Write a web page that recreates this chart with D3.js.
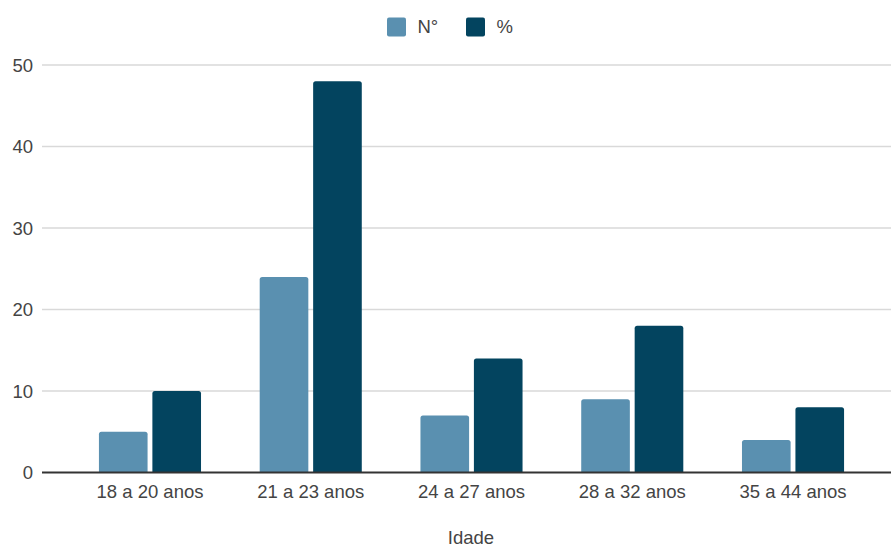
<!DOCTYPE html>
<html>
<head>
<meta charset="utf-8">
<script src="https://cdn.jsdelivr.net/npm/d3@7"></script>
<style>
  html, body { margin: 0; padding: 0; background: #fff; }
  svg { display: block; font-family: "Liberation Sans", Arial, sans-serif; }
</style>
</head>
<body>
<svg id="chart" width="891" height="547"></svg>
<script>
// Age groups and the two series shown per group
const categories = ["18 a 20 anos", "21 a 23 anos", "24 a 27 anos", "28 a 32 anos", "35 a 44 anos"];
const seriesNames = ["N°", "%"];
const countValues = [5, 24, 7, 9, 4];
const percentValues = [10, 48, 14, 18, 8];
const yTicks = [0, 10, 20, 30, 40, 50];
const colors = ["#5a90b0", "#03445f"];
const xTitle = "Idade";

const FONT = '"Liberation Sans", Arial, sans-serif';
const FS = 18.5;
const TEXT = "#444";

const svg = d3.select("#chart");

const gridLeft = 42, gridRight = 891;
const bandLeft = 70, bandRight = 873;
const yBottom = 472.5, yTop = 65;

const x = d3.scaleBand().domain(categories).range([bandLeft, bandRight]).paddingInner(0.365).paddingOuter(0.18);
const xs = d3.scaleBand().domain(seriesNames).range([0, x.bandwidth()]).paddingInner(0.09);
const y = d3.scaleLinear().domain([0, 50]).range([yBottom, yTop]);

const rows = categories.map((c, i) => ({ cat: c, values: [countValues[i], percentValues[i]] }));

// Horizontal gridlines
svg.append("g")
  .selectAll("line")
  .data(yTicks.filter(t => t > 0))
  .join("line")
  .attr("x1", gridLeft).attr("x2", gridRight)
  .attr("y1", d => y(d)).attr("y2", d => y(d))
  .attr("stroke", "#d9d9d9").attr("stroke-width", 1.3);

// Y axis labels
const yAxis = d3.axisLeft(y).tickValues(yTicks).tickSize(0).tickPadding(0).tickFormat(d3.format("d"));
const yg = svg.append("g").attr("transform", `translate(${gridLeft - 9},0)`).call(yAxis);
yg.select(".domain").remove();
yg.selectAll("text").attr("font-size", FS).attr("fill", TEXT).attr("dy", "0.35em").attr("font-family", FONT);

// Bars with rounded tops
const group = svg.append("g")
  .selectAll("g")
  .data(rows)
  .join("g")
  .attr("transform", d => `translate(${x(d.cat)},0)`);

function barPath(x0, w, yv) {
  const r = 2.5;
  const y0 = yBottom, y1 = y(yv);
  return `M${x0},${y0} L${x0},${y1 + r} Q${x0},${y1} ${x0 + r},${y1} L${x0 + w - r},${y1} Q${x0 + w},${y1} ${x0 + w},${y1 + r} L${x0 + w},${y0} Z`;
}

group.selectAll("path")
  .data(d => d.values.map((v, j) => ({ key: seriesNames[j], v, j })))
  .join("path")
  .attr("d", d => barPath(xs(d.key), xs.bandwidth(), d.v))
  .attr("fill", d => colors[d.j]);

// Baseline
svg.append("line")
  .attr("x1", gridLeft).attr("x2", gridRight)
  .attr("y1", yBottom).attr("y2", yBottom)
  .attr("stroke", "#333").attr("stroke-width", 1.8);

// X axis labels
const xAxis = d3.axisBottom(x).tickSize(0).tickPadding(0);
const xg = svg.append("g").attr("transform", `translate(0,${yBottom + 19.5})`).call(xAxis);
xg.select(".domain").remove();
xg.selectAll("text").attr("font-size", FS).attr("fill", TEXT).attr("dy", "0.35em").attr("font-family", FONT);

// Axis title
svg.append("text")
  .attr("x", 471).attr("y", 544)
  .attr("text-anchor", "middle")
  .attr("font-size", FS).attr("fill", TEXT).attr("font-family", FONT)
  .text(xTitle);

// Legend
const legendItems = [
  { name: seriesNames[0], color: colors[0], x: 387 },
  { name: seriesNames[1], color: colors[1], x: 466 }
];
const lg = svg.append("g").selectAll("g").data(legendItems).join("g")
  .attr("transform", d => `translate(${d.x},17.5)`);
lg.append("rect").attr("width", 19).attr("height", 19).attr("rx", 2).attr("fill", d => d.color);
lg.append("text").attr("x", 30.5).attr("y", 9.5).attr("dy", "0.35em")
  .attr("font-size", FS).attr("fill", TEXT).attr("font-family", FONT).text(d => d.name);
</script>
</body>
</html>
